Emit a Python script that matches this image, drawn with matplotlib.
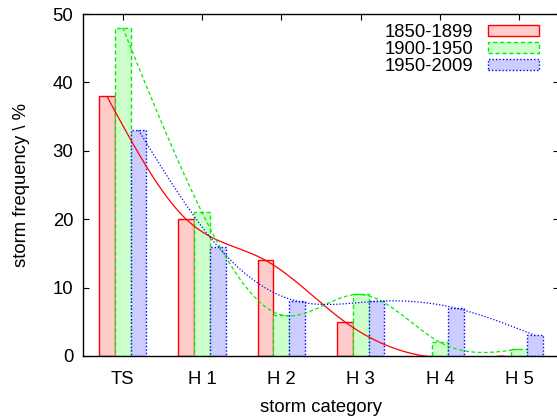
import matplotlib
matplotlib.use("Agg")
import matplotlib.pyplot as plt
import numpy as np

categories = ["TS", "H 1", "H 2", "H 3", "H 4", "H 5"]
periods = ["1850-1899", "1900-1950", "1950-2009"]
freq_1850 = [38, 20, 14, 5, 0, 0]
freq_1900 = [48, 21, 6, 9, 2, 1]
freq_1950 = [33, 16, 8, 8, 7, 3]


def natural_spline(x, y, n=300):
    # natural cubic spline, like gnuplot's "smooth csplines"
    x = np.asarray(x, float)
    y = np.asarray(y, float)
    k = len(x)
    h = np.diff(x)
    A = np.zeros((k, k))
    b = np.zeros(k)
    A[0, 0] = A[-1, -1] = 1
    for i in range(1, k - 1):
        A[i, i - 1] = h[i - 1]
        A[i, i] = 2 * (h[i - 1] + h[i])
        A[i, i + 1] = h[i]
        b[i] = 3 * ((y[i + 1] - y[i]) / h[i] - (y[i] - y[i - 1]) / h[i - 1])
    c = np.linalg.solve(A, b)
    xs = np.linspace(x[0], x[-1], n)
    idx = np.clip(np.searchsorted(x, xs) - 1, 0, k - 2)
    dx = xs - x[idx]
    bb = (y[idx + 1] - y[idx]) / h[idx] - h[idx] * (2 * c[idx] + c[idx + 1]) / 3
    dd = (c[idx + 1] - c[idx]) / (3 * h[idx])
    ys = y[idx] + bb * dx + c[idx] * dx ** 2 + dd * dx ** 3
    return xs, ys


plt.rcParams['font.family'] = ['Liberation Sans', 'DejaVu Sans']
plt.rcParams['font.size'] = 13.3

fig = plt.figure(figsize=(5.57, 4.16), dpi=100)
ax = fig.add_axes([83 / 557, 60 / 416, 476 / 557, 342 / 416])

x = np.arange(len(categories))
w = 0.2
series = [
    (freq_1850, -w, "#ff0000", "#ffcccc", (0, ())),
    (freq_1900, 0, "#00ee00", "#ccffcc", (0, (3, 2))),
    (freq_1950, w, "#0000ff", "#ccccff", (0, (1, 1.5))),
]
for (vals, off, ec, fc, dash), label in zip(series, periods):
    ax.bar(x + off, vals, width=w, facecolor=fc, edgecolor=ec,
           linestyle=dash, linewidth=1.0, label=label, zorder=2)
    xs, ys = natural_spline(x + off, vals)
    ax.plot(xs, ys, color=ec, linestyle=dash, linewidth=0.9, zorder=3)

ax.set_xlim(-0.5, 5.5)
ax.set_ylim(0, 50)
ax.set_xticks(x)
ax.set_xticklabels(categories)
ax.set_yticks(range(0, 51, 10))
ax.tick_params(direction="in", length=4.5, width=0.8, top=True, right=True, pad=7)
ax.tick_params(axis="x", pad=11)
for s in ax.spines.values():
    s.set_linewidth(1.0)
ax.set_xlabel("storm category", labelpad=8)
ax.set_ylabel("storm frequency \\ %", labelpad=16)

ax.legend(loc="upper right", bbox_to_anchor=(539 / 557, 1 - 24 / 416),
          bbox_transform=fig.transFigure, frameon=False, markerfirst=False,
          handlelength=2.75, handleheight=0.55, handletextpad=0.8,
          borderpad=0, borderaxespad=0, labelspacing=0.0)

fig.savefig("out.png", dpi=100)
